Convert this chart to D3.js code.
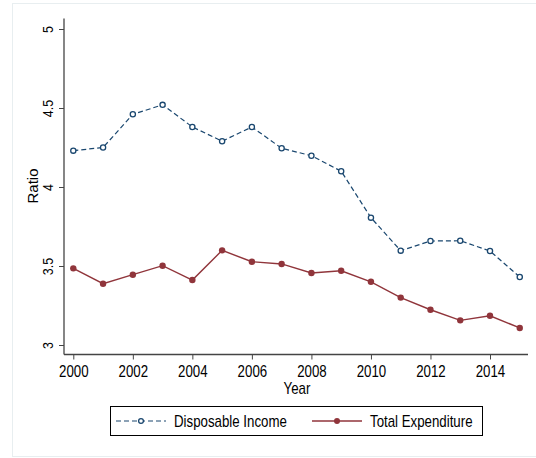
<!DOCTYPE html>
<html><head><meta charset="utf-8">
<script src="https://cdn.jsdelivr.net/npm/d3@7"></script>
<style>body{margin:0;background:#fff}svg{display:block}text{font-family:"Liberation Sans",Arial,sans-serif;fill:#000}</style>
</head><body>
<script>
const years = [2000,2001,2002,2003,2004,2005,2006,2007,2008,2009,2010,2011,2012,2013,2014,2015];
const disposableIncome = [4.23,4.25,4.46,4.52,4.38,4.29,4.38,4.245,4.198,4.10,3.806,3.597,3.658,3.66,3.595,3.43];
const totalExpenditure = [3.485,3.388,3.445,3.502,3.411,3.599,3.527,3.513,3.456,3.47,3.40,3.30,3.223,3.156,3.185,3.108];
const xTicks = [2000,2002,2004,2006,2008,2010,2012,2014];
const yTicks = [3,3.5,4,4.5,5];
const seriesNames = ["Disposable Income","Total Expenditure"];

const W=536,H=458, SX=0.83;
const svg=d3.select("body").append("svg").attr("width",W).attr("height",H);
svg.append("rect").attr("x",12.5).attr("y",3.5).attr("width",W).attr("height",453).attr("fill","#fff").attr("stroke","#e8eef0");

const x=d3.scaleLinear().domain([2000,2014]).range([73.3,490]);
const y=d3.scaleLinear().domain([3,5]).range([345,29]);
const axisCol="#444";

// y axis
const ya=svg.append("g").attr("transform","translate(64,0)")
  .call(d3.axisLeft(y).tickValues(yTicks).tickSize(5).tickFormat(d3.format("")));
ya.select(".domain").attr("d","M0,18.5V354.5").attr("stroke",axisCol).attr("stroke-width",1.3);
ya.selectAll(".tick line").attr("stroke",axisCol);
ya.selectAll(".tick text").attr("transform",`rotate(-90) scale(${SX},1)`).attr("x",0).attr("y",-16).attr("dy","0.35em")
  .attr("text-anchor","middle").style("font-size","15px").style("font-family","Liberation Sans,Arial,sans-serif").attr("fill","#000");

// x axis
const xa=svg.append("g").attr("transform","translate(0,354.5)")
  .call(d3.axisBottom(x).tickValues(xTicks).tickSize(5).tickFormat(d3.format("d")));
xa.select(".domain").attr("d","M64,0H528").attr("stroke",axisCol).attr("stroke-width",1.3);
xa.selectAll(".tick line").attr("stroke",axisCol);
xa.selectAll(".tick text").attr("y",11).attr("transform",`scale(${SX},1)`).style("font-size","16px").style("font-family","Liberation Sans,Arial,sans-serif").attr("fill","#000");

svg.append("text").attr("transform",`translate(297,394.3) scale(${SX},1)`).attr("text-anchor","middle").style("font-size","16px").text("Year");
svg.append("text").attr("transform","translate(38,186) rotate(-90)").attr("text-anchor","middle").style("font-size","15px").text("Ratio");

const blue="#1a476f", red="#90353b";
const line=d3.line().x((d,i)=>x(years[i])).y(d=>y(d));
svg.append("path").datum(disposableIncome).attr("d",line).attr("fill","none").attr("stroke",blue).attr("stroke-width",1.2).attr("stroke-dasharray","5,3");
svg.append("path").datum(totalExpenditure).attr("d",line).attr("fill","none").attr("stroke",red).attr("stroke-width",1.4);
svg.selectAll(".di").data(disposableIncome).enter().append("circle").attr("cx",(d,i)=>x(years[i])).attr("cy",d=>y(d)).attr("r",2.6)
  .attr("fill","#fff").attr("stroke",blue).attr("stroke-width",1.3);
svg.selectAll(".te").data(totalExpenditure).enter().append("circle").attr("cx",(d,i)=>x(years[i])).attr("cy",d=>y(d)).attr("r",3.2)
  .attr("fill",red);

// legend
const lg=svg.append("g");
lg.append("rect").attr("x",110.5).attr("y",406.5).attr("width",372).attr("height",29).attr("fill","#fff").attr("stroke","#000").attr("stroke-width",1);
lg.append("line").attr("x1",116).attr("x2",166).attr("y1",421).attr("y2",421).attr("stroke",blue).attr("stroke-width",1.2).attr("stroke-dasharray","5,3");
lg.append("circle").attr("cx",141).attr("cy",421).attr("r",2.4).attr("fill","#fff").attr("stroke",blue).attr("stroke-width",1.3);
lg.append("text").attr("transform",`translate(174,426.5) scale(${SX},1)`).style("font-size","16px").text(seriesNames[0]);
lg.append("line").attr("x1",312).attr("x2",362).attr("y1",421).attr("y2",421).attr("stroke",red).attr("stroke-width",1.4);
lg.append("circle").attr("cx",337).attr("cy",421).attr("r",3).attr("fill",red);
lg.append("text").attr("transform",`translate(370,426.5) scale(${SX},1)`).style("font-size","16px").text(seriesNames[1]);
</script>
</body></html>
